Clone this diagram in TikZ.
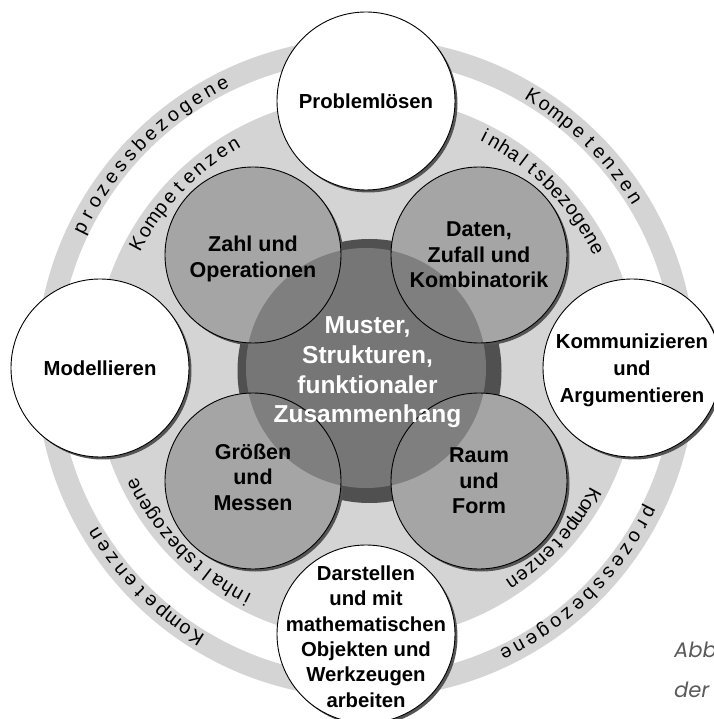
\documentclass[tikz,border=0pt]{standalone}
\usepackage{fontspec}
\setmainfont{Liberation Sans}
\newfontfamily\captfont{Poppins}[FakeSlant=0.18]
\usetikzlibrary{shadows}
\definecolor{ringgray}{RGB}{211,212,211}
\definecolor{circgray}{RGB}{165,165,165}
\definecolor{shadowgray}{RGB}{85,85,85}
\definecolor{centerdark}{RGB}{80,80,80}
\definecolor{centerlight}{RGB}{123,123,123}
\definecolor{captgray}{RGB}{90,90,90}
\newlength\atlen
\newcommand\arcfontsel{\fontsize{19.5}{19.5}\selectfont}
% #1 radius, #2 start angle, #3 end angle (centres of first/last char), #4 proportional factor, #5 chars
\newcommand\arctext[5]{%
  \gdef\atS{0}\gdef\atPW{-1}\gdef\atN{0}%
  \foreach \ch in {#5}{%
    \settowidth{\atlen}{\arcfontsel\ch}%
    \pgfmathsetmacro\atW{\atlen}%
    \ifdim\atPW pt<0pt\relax\else
      \pgfmathsetmacro\attmp{\atS+#4*(\atPW+\atW)/2}\xdef\atS{\attmp}%
    \fi
    \xdef\atPW{\atW}%
    \pgfmathtruncatemacro\attmp{\atN+1}\xdef\atN{\attmp}%
  }%
  \pgfmathsetmacro\atB{(((#2)-(#3))*pi/180*(#1)-\atS)/(\atN-1)}%
  \xdef\atB{\atB}%
  \xdef\atAng{#2}\gdef\atPW{-1}%
  \foreach \ch in {#5}{%
    \settowidth{\atlen}{\arcfontsel\ch}%
    \pgfmathsetmacro\atW{\atlen}%
    \ifdim\atPW pt<0pt\relax\else
      \pgfmathsetmacro\attmp{\atAng-(#4*(\atPW+\atW)/2+\atB)/(#1)*180/pi}\xdef\atAng{\attmp}%
    \fi
    \xdef\atPW{\atW}%
    \node[arcchar,rotate=\atAng-90] at (\atAng:#1) {\ch};%
  }%
}
\begin{document}
\begin{tikzpicture}[x=1pt,y=1pt,
  sat/.style={circle,minimum size=178pt,inner sep=0pt,draw=black,line width=0.9pt,fill=white,
    drop shadow={shadow xshift=2.5pt,shadow yshift=-2.5pt,fill=shadowgray,opacity=1}},
  gcirc/.style={circle,minimum size=176pt,inner sep=0pt,fill=circgray,
    drop shadow={shadow xshift=2.5pt,shadow yshift=-2.5pt,fill=shadowgray,opacity=1}},
  outl/.style={draw=black,line width=0.9pt},
  lab/.style={font=\fontsize{20.3}{25}\selectfont\bfseries,align=center,inner sep=0pt},
  glab/.style={font=\fontsize{21.5}{25.5}\selectfont\bfseries,align=center,inner sep=0pt},
  clab/.style={font=\fontsize{24.5}{29.7}\selectfont\bfseries,align=center,inner sep=0pt,text=white},
  arcchar/.style={inner sep=0pt,anchor=base,font=\arcfontsel},
  capt/.style={font=\captfont\fontsize{21}{21}\selectfont,text=captgray,inner sep=0pt,anchor=base west}]
\fill[white] (-366,-351) rectangle (347,368);
\useasboundingbox (-366,-351) rectangle (347,368);
% rings
\fill[ringgray,even odd rule] (0,0) circle (330) (0,0) circle (308);
\fill[ringgray] (0,0) circle (272);
% arc texts
\arctext{312}{153.8}{116.8}{1}{p,r,o,z,e,s,s,b,e,z,o,g,e,n,e}
\arctext{312}{58.4}{32.3}{0}{K,o,m,p,e,t,e,n,z,e,n}
\arctext{312}{-26.9}{-63.8}{1}{p,r,o,z,e,s,s,b,e,z,o,g,e,n,e}
\arctext{312}{-122.2}{-148.5}{0}{K,o,m,p,e,t,e,n,z,e,n}
\arctext{254}{151.4}{120.6}{1}{K,o,m,p,e,t,e,n,z,e,n}
\arctext{254}{62.9}{27.4}{0}{i,n,h,a,l,t,s,b,e,z,o,g,e,n,e}
\arctext{254}{-117.2}{-153.5}{0}{i,n,h,a,l,t,s,b,e,z,o,g,e,n,e}
\arctext{254}{-29.3}{-55.6}{1}{K,o,m,p,e,t,e,n,z,e,n}
% satellite circles
\node[sat] (prob) at (0,267) {};
\node[sat] (mod) at (-266,0) {};
\node[sat] (komm) at (266,0) {};
\node[sat] (dar) at (0,-266) {};
\node[lab] (probt) at (prob.center) {Problemlösen};
\node[lab] (modt) at (mod.center) {Modellieren};
\node[lab,font=\fontsize{20.3}{27}\selectfont\bfseries] (kommt) at ([yshift=-2]komm.center) {Kommunizieren\\und\\Argumentieren};
\node[lab,font=\fontsize{20.3}{25.4}\selectfont\bfseries] (dart) at ([yshift=-2.5]dar.center) {Darstellen\\und mit\\mathematischen\\Objekten und\\Werkzeugen\\arbeiten};
% centre shadow
\node[circle,minimum size=264pt,inner sep=0pt,fill=centerdark] (coresh) at (3.5,-3) {};
% grey circles
\node[gcirc] (zahl) at (-113,113) {};
\node[gcirc] (daten) at (113,113) {};
\node[gcirc] (groe) at (-113,-113) {};
\node[gcirc] (raum) at (113,-113) {};
% centre disc
\node[circle,minimum size=240pt,inner sep=0pt,fill=centerlight,fill opacity=0.9] (core) at (0,0) {};
% outlines of grey circles
\draw[outl] (zahl.center) circle (88);
\draw[outl] (daten.center) circle (88);
\draw[outl] (groe.center) circle (88);
\draw[outl] (raum.center) circle (88);
% labels
\node[glab] (zahlt) at ([yshift=-4]zahl.center) {Zahl und\\Operationen};
\node[glab] (datent) at (daten.center) {Daten,\\Zufall und\\Kombinatorik};
\node[glab] (groet) at ([yshift=4]groe.center) {Größen\\und\\Messen};
\node[glab] (raumt) at (raum.center) {Raum\\und\\Form};
\node[clab] (coret) at (1.5,-4.5) {Muster,\\Strukturen,\\funktionaler\\Zusammenhang};
% caption fragments
\node[capt] (abb) at (307,-289) {Abb};
\node[capt] (der) at (307,-329) {der};
\end{tikzpicture}
\end{document}
